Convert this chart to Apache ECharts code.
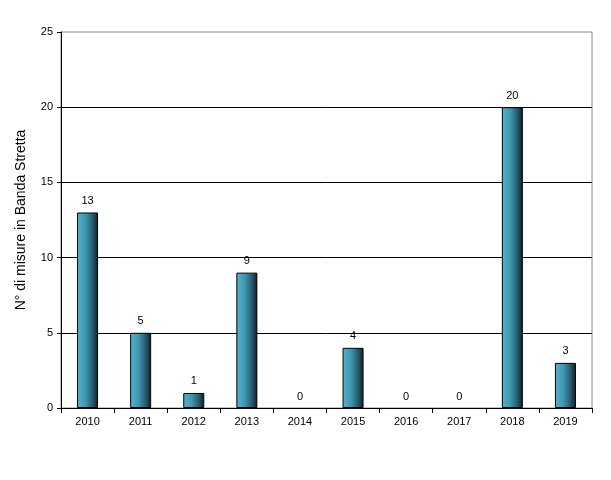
<!DOCTYPE html>
<html><head><meta charset="utf-8">
<script src="https://cdn.jsdelivr.net/npm/echarts@6/dist/echarts.min.js"></script>
<style>html,body{margin:0;padding:0;background:#fff}#c{width:611px;height:480px}</style>
</head><body><div id="c"></div>
<script>
const categories = ['2010','2011','2012','2013','2014','2015','2016','2017','2018','2019'];
const values = [13,5,1,9,0,4,0,0,20,3];
const yTitle = 'N° di misure in Banda Stretta';

const chart = echarts.init(document.getElementById('c'), null, {renderer:'canvas'});
const font = 'Liberation Sans, Arial, sans-serif';
const barColor = new echarts.graphic.LinearGradient(0,0,1,0,[
  {offset:0,color:'#55b4cc'},{offset:0.4,color:'#3f97b0'},{offset:0.75,color:'#26586c'},{offset:1,color:'#121c28'}]);
chart.setOption({
  animation:false,
  backgroundColor:'#fff',
  grid:{left:61,right:19,top:32,bottom:72,show:true,borderColor:'#888',borderWidth:1,containLabel:false},
  xAxis:{type:'category',data:categories,
    axisLine:{lineStyle:{color:'#000',width:1}},
    axisTick:{show:true,length:5,lineStyle:{color:'#000'},alignWithLabel:false},
    axisLabel:{color:'#000',fontFamily:font,fontSize:11,margin:8}},
  yAxis:{type:'value',min:0,max:25,interval:5,
    name:yTitle,nameLocation:'middle',nameGap:33,
    nameTextStyle:{color:'#000',fontFamily:font,fontSize:14},
    axisLine:{show:true,lineStyle:{color:'#000',width:1}},
    axisTick:{show:true,length:4,lineStyle:{color:'#000'}},
    axisLabel:{color:'#000',fontFamily:font,fontSize:11,margin:8},
    splitLine:{showMaxLine:false,lineStyle:{color:'#000',width:1}}},
  series:[{type:'bar',barWidth:21,
    data:values.map(v => v === 0 ? {value:v,itemStyle:{borderWidth:0,opacity:0}} : v),
    itemStyle:{borderColor:'#000',borderWidth:1,color:barColor},
    label:{show:true,position:'top',distance:6,color:'#000',fontFamily:font,fontSize:11,opacity:1}}]
});
</script></body></html>
